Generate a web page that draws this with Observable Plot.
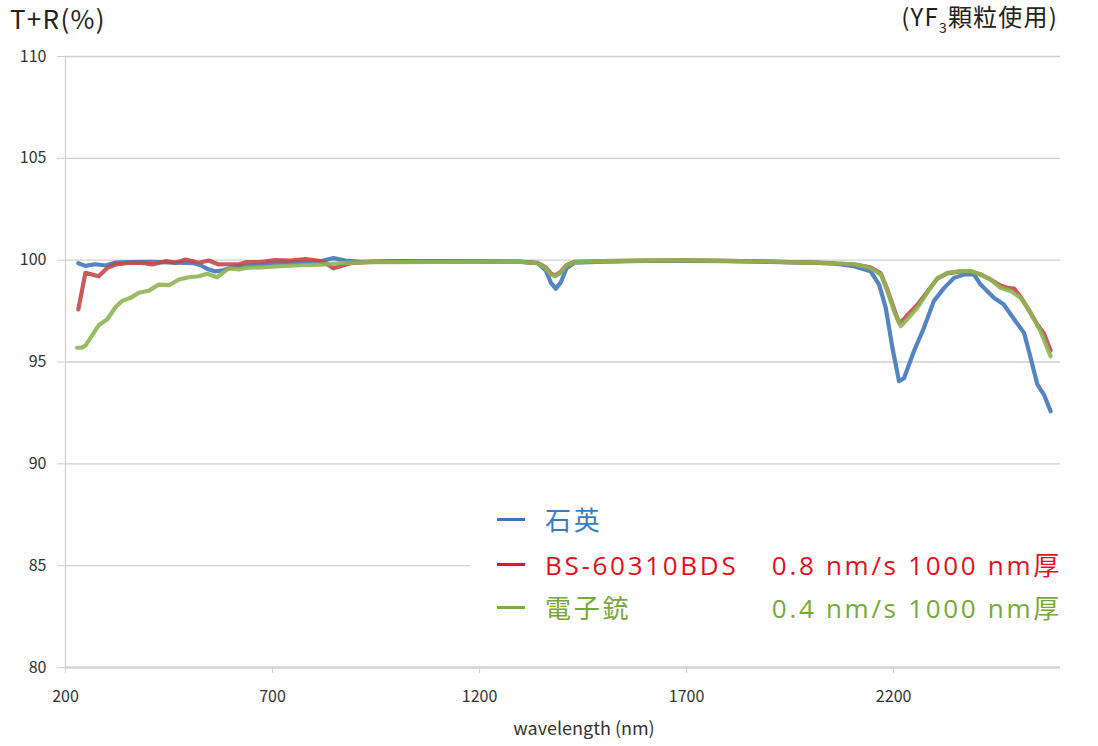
<!DOCTYPE html>
<html>
<head>
<meta charset="utf-8">
<script src="https://cdn.jsdelivr.net/npm/d3@7"></script>
<script src="https://cdn.jsdelivr.net/npm/@observablehq/plot@0.6"></script>
<style>
  html, body { margin: 0; padding: 0; background: #fff; }
  #wrap { position: relative; width: 1098px; height: 746px; font-family: "Noto Sans CJK JP", "Noto Sans", sans-serif; }
  #ttl { position: absolute; left: 10px; top: 2px; font-size: 26px; line-height: 1.2; color: #222; letter-spacing: 1.3px; }
  #ttr { position: absolute; right: 40px; top: 2px; font-size: 24px; line-height: 1.2; color: #222; letter-spacing: 1.2px; }
  #ttr sub { font-size: 14px; vertical-align: -7px; line-height: 0; }
  #legend { position: absolute; left: 470px; top: 497px; width: 592px; height: 138px; background: #fff; }
  .row { position: absolute; left: 0; height: 30px; width: 592px; font-size: 26px; line-height: 30px; white-space: nowrap;
         font-family: "Open Sans", "Noto Sans CJK JP", sans-serif; font-weight: 400; letter-spacing: 2.7px; }
  .row .sw { position: absolute; left: 27px; top: 13px; width: 28px; height: 3px; }
  .row .a { position: absolute; left: 75px; top: 0; }
  .row .b { position: absolute; right: 0px; top: 0; }
</style>
</head>
<body>
<div id="wrap">
  <div id="chart"></div>
  <div id="ttl">T+R(%)</div>
  <div id="ttr">(YF<sub>3</sub>顆粒使用)</div>
  <div id="legend"></div>
</div>
<script>
// ---- data ----
const quartzNm = [231, 248, 272, 297, 321, 357, 405, 466, 510, 526, 545, 560, 580, 611, 647, 695, 768, 816, 847, 876, 913, 1000, 1100, 1200, 1300, 1340, 1360, 1372, 1384, 1396, 1410, 1430, 1500, 1600, 1700, 1800, 1900, 2000, 2050, 2104, 2144, 2165, 2181, 2197, 2213, 2225, 2249, 2273, 2297, 2322, 2346, 2370, 2394, 2410, 2442, 2466, 2491, 2515, 2531, 2547, 2563, 2579];
const quartzVal = [99.85, 99.72, 99.8, 99.74, 99.88, 99.9, 99.92, 99.88, 99.85, 99.75, 99.55, 99.45, 99.5, 99.7, 99.75, 99.85, 99.9, 99.95, 100.1, 99.98, 99.92, 99.95, 99.93, 99.93, 99.92, 99.85, 99.5, 98.9, 98.6, 98.9, 99.6, 99.88, 99.93, 99.97, 99.97, 99.95, 99.92, 99.88, 99.85, 99.7, 99.46, 98.8, 97.66, 95.7, 94.06, 94.2, 95.53, 96.67, 97.99, 98.64, 99.13, 99.3, 99.3, 98.8, 98.15, 97.82, 97.1, 96.43, 95.2, 93.9, 93.4, 92.58];

const bsNm = [231, 248, 264, 280, 301, 321, 353, 385, 409, 442, 466, 490, 522, 546, 570, 594, 619, 635, 671, 707, 743, 780, 811, 828, 847, 864, 888, 937, 1000, 1100, 1200, 1300, 1340, 1360, 1372, 1382, 1394, 1410, 1430, 1500, 1600, 1700, 1800, 1900, 2000, 2104, 2144, 2169, 2185, 2201, 2213, 2225, 2233, 2257, 2281, 2306, 2330, 2362, 2386, 2410, 2434, 2458, 2475, 2491, 2507, 2531, 2547, 2563, 2579];
const bsVal = [97.58, 99.38, 99.3, 99.21, 99.62, 99.79, 99.87, 99.87, 99.79, 99.95, 99.87, 100.03, 99.87, 99.98, 99.79, 99.8, 99.8, 99.9, 99.9, 100.0, 99.98, 100.05, 99.97, 99.85, 99.6, 99.7, 99.85, 99.92, 99.93, 99.95, 99.95, 99.93, 99.87, 99.65, 99.35, 99.25, 99.4, 99.75, 99.92, 99.95, 99.98, 99.99, 99.97, 99.93, 99.88, 99.8, 99.65, 99.35, 98.55, 97.6, 96.92, 97.1, 97.3, 97.8, 98.45, 99.1, 99.35, 99.45, 99.45, 99.3, 99.05, 98.75, 98.64, 98.6, 98.2, 97.4, 96.84, 96.4, 95.56];

const ebNm = [228, 238, 248, 264, 280, 301, 321, 337, 357, 377, 401, 425, 450, 474, 498, 522, 542, 566, 594, 619, 635, 671, 719, 768, 816, 864, 937, 1000, 1100, 1200, 1300, 1340, 1360, 1372, 1382, 1394, 1410, 1430, 1500, 1600, 1700, 1800, 1900, 2024, 2104, 2144, 2169, 2185, 2201, 2217, 2233, 2257, 2281, 2306, 2330, 2362, 2386, 2410, 2434, 2458, 2483, 2507, 2531, 2555, 2579];
const ebVal = [95.7, 95.7, 95.8, 96.3, 96.8, 97.1, 97.7, 98.0, 98.15, 98.4, 98.5, 98.8, 98.77, 99.05, 99.16, 99.21, 99.33, 99.16, 99.6, 99.54, 99.62, 99.65, 99.7, 99.75, 99.78, 99.85, 99.9, 99.9, 99.92, 99.93, 99.92, 99.85, 99.6, 99.3, 99.2, 99.35, 99.75, 99.9, 99.95, 99.98, 99.99, 99.97, 99.93, 99.87, 99.8, 99.62, 99.3, 98.48, 97.5, 96.76, 97.1, 97.66, 98.4, 99.13, 99.38, 99.46, 99.46, 99.3, 99.05, 98.64, 98.48, 98.15, 97.41, 96.5, 95.28];

const seriesNames = ["石英", "BS-60310BDS", "電子銃"];
const seriesNotes = ["", "0.8 nm/s 1000 nm厚", "0.4 nm/s 1000 nm厚"];
const lineColors = ["#4277bd", "#c5474a", "#8db653"];
const legendLineColors = ["#3c74ba", "#e2141f", "#80a94b"];
const legendTextColors = ["#3a7bc3", "#e60f1c", "#76a83c"];

const xTicks = [200, 700, 1200, 1700, 2200];
const yTicks = [80, 85, 90, 95, 100, 105, 110];
const xLabel = "wavelength (nm)";

// ---- build table ----
const rows = [];
[[quartzNm, quartzVal], [bsNm, bsVal], [ebNm, ebVal]].forEach(([xs, ys], i) => {
  xs.forEach((x, j) => rows.push({series: seriesNames[i], nm: x, v: ys[j]}));
});

const chart = Plot.plot({
  width: 1098,
  height: 746,
  marginTop: 56,
  marginRight: 38,
  marginBottom: 79,
  marginLeft: 65,
  style: {fontFamily: '"Noto Sans CJK JP", "Noto Sans", sans-serif', fontSize: "16px", background: "#fff"},
  x: {domain: [200, 2603]},
  y: {domain: [80, 110]},
  color: {domain: seriesNames, range: lineColors},
  marks: [
    Plot.gridY(yTicks.filter(d => d > 80), {stroke: "#cfcfcf", strokeOpacity: 1, strokeWidth: 1.3}),
    Plot.axisY(yTicks, {tickSize: 8, tickPadding: 11, stroke: "#cfcfcf", fill: "#333", label: null, fontSize: 16, tickFormat: d => String(d)}),
    Plot.axisX(xTicks, {tickSize: 6, tickPadding: 17, stroke: "#cfcfcf", fill: "#333", label: null, fontSize: 16, tickFormat: d => String(d), letterSpacing: 0.8}),
    Plot.ruleX([200], {stroke: "#cfcfcf", strokeWidth: 1.3}),
    Plot.ruleY([80], {stroke: "#d4d4d4", strokeWidth: 2.5}),
    Plot.text([xLabel], {frameAnchor: "bottom", dy: 67, dx: 21, fill: "#333", fontSize: 18, letterSpacing: 2.4}),
    Plot.line(rows, {x: "nm", y: "v", z: "series", stroke: "series", strokeWidth: 4.2, strokeOpacity: 0.9, curve: "linear"})
  ]
});
document.getElementById("chart").appendChild(chart);

// ---- legend ----
const lg = document.getElementById("legend");
const rowTops = [8, 53, 96];
seriesNames.forEach((name, i) => {
  const r = document.createElement("div");
  r.className = "row";
  r.style.top = rowTops[i] + "px";
  r.style.color = legendTextColors[i];
  r.innerHTML = `<span class="sw" style="background:${legendLineColors[i]}"></span><span class="a">${name}</span>` +
    (seriesNotes[i] ? `<span class="b">${seriesNotes[i]}</span>` : "");
  lg.appendChild(r);
});
</script>
</body>
</html>
